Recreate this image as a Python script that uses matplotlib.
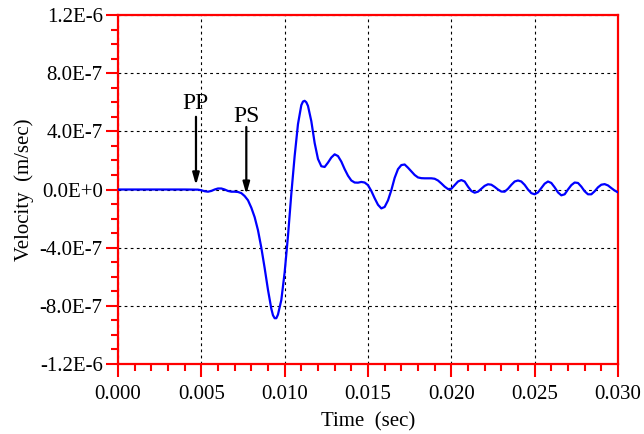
import numpy as np
import matplotlib
matplotlib.use('Agg')
import matplotlib.pyplot as plt
from matplotlib.ticker import MultipleLocator, FuncFormatter

plt.rcParams['font.family'] = ['Liberation Serif', 'DejaVu Serif']

# time (sec) of each velocity sample
t = [0.0, 0.0020, 0.0040, 0.0048, 0.0050, 0.0052, 0.0054, 0.0056, 0.0058,
     0.0060, 0.0062, 0.0064, 0.0066, 0.0068, 0.0070, 0.0072, 0.0074, 0.0076,
     0.0078, 0.0080, 0.0082, 0.0084, 0.0086, 0.0088, 0.0090, 0.0092, 0.0093,
     0.0094, 0.0095, 0.0096, 0.0098, 0.0100, 0.0102, 0.0104, 0.0106, 0.0108,
     0.0110, 0.0111, 0.0112, 0.0113,
     0.0114, 0.0116, 0.0118, 0.0120, 0.0122, 0.0124, 0.0126, 0.0128, 0.0130,
     0.0132, 0.0134, 0.0136, 0.0138, 0.0140, 0.0142, 0.0144, 0.0146, 0.0148,
     0.0150, 0.0152, 0.0154, 0.0156, 0.0158, 0.0160, 0.0162, 0.0164, 0.0166,
     0.0168, 0.0170, 0.0172, 0.0174, 0.0176, 0.0178, 0.0180, 0.0182, 0.0184,
     0.0186, 0.0188, 0.0190, 0.0192, 0.0194, 0.0196, 0.0198, 0.0200, 0.0202,
     0.0204, 0.0206, 0.0208, 0.0210, 0.0212, 0.0214, 0.0216, 0.0218, 0.0220,
     0.0222, 0.0224, 0.0226, 0.0228, 0.0230, 0.0232, 0.0234, 0.0236, 0.0238,
     0.0240, 0.0242, 0.0244, 0.0246, 0.0248, 0.0250, 0.0252, 0.0254, 0.0256,
     0.0258, 0.0260, 0.0262, 0.0264, 0.0266, 0.0268, 0.0270, 0.0272, 0.0274,
     0.0276, 0.0278, 0.0280, 0.0282, 0.0284, 0.0286, 0.0288, 0.0290, 0.0292,
     0.0294, 0.0296, 0.0298, 0.0300]

# velocity (1E-7 m/sec)
v7 = [0.0, 0.0, 0.0, -0.01, -0.05, -0.12, -0.15, -0.10, 0.0,
      0.07, 0.07, 0.0, -0.10, -0.15, -0.15, -0.17, -0.25, -0.45,
      -0.74, -1.25, -1.9, -2.8, -4.0, -5.4, -6.9, -8.2, -8.65,
      -8.85, -8.85, -8.6, -7.6, -5.7, -3.2, -0.3, 2.3, 4.5,
      5.8, 6.05, 6.1, 6.0,
      5.75, 4.7, 3.2, 2.1, 1.6, 1.55, 1.85, 2.2, 2.42,
      2.3, 1.92, 1.4, 0.95, 0.62, 0.48, 0.47, 0.52, 0.48,
      0.3, -0.1, -0.6, -1.05, -1.3, -1.2, -0.75, -0.05, 0.8,
      1.4, 1.68, 1.72, 1.5, 1.25, 1.0, 0.83, 0.78, 0.77,
      0.77, 0.77, 0.74, 0.62, 0.42, 0.2, 0.03, 0.05, 0.3,
      0.55, 0.65, 0.55, 0.2, -0.1, -0.22, -0.15, 0.05, 0.25,
      0.36, 0.33, 0.18, 0.0, -0.14, -0.15, 0.05, 0.32, 0.55,
      0.62, 0.55, 0.32, 0.0, -0.25, -0.33, -0.2, 0.1, 0.4,
      0.55, 0.45, 0.15, -0.2, -0.4, -0.33, 0.0, 0.3, 0.48,
      0.45, 0.2, -0.12, -0.33, -0.33, -0.12, 0.15, 0.33, 0.37,
      0.28, 0.1, -0.07, -0.2]

# phase arrivals: label, time, arrow tail, arrow tip, label height
picks = ['PP', 'PS']
pick_t = [0.00468, 0.00770]
pick_tail = [5.0e-7, 4.3e-7]
pick_tip = [0.3e-7, -0.33e-7]
pick_text = [5.9e-7, 5.0e-7]

v = np.array(v7) * 1e-7

fig = plt.figure(figsize=(6.44, 4.34), dpi=100)
ax = fig.add_axes([0.1832, 0.1613, 0.7764, 0.8041])

ax.plot(t, v, color='#0000ff', lw=1.6, zorder=3)

for name, x, y0, y1, yt in zip(picks, pick_t, pick_tail, pick_tip, pick_text):
    ax.annotate('', xy=(x, y1), xytext=(x, y0),
                arrowprops=dict(arrowstyle='-|>,head_length=0.7,head_width=0.2',
                                color='black', lw=1.6, shrinkA=0, shrinkB=0),
                zorder=4)
    ax.text(x, yt, name, ha='center', va='center', fontsize=17)

ax.set_xlim(0, 0.030)
ax.set_ylim(-1.2e-6, 1.2e-6)
ax.xaxis.set_major_locator(MultipleLocator(0.005))
ax.xaxis.set_minor_locator(MultipleLocator(0.001))
ax.yaxis.set_major_locator(MultipleLocator(4e-7))
ax.yaxis.set_minor_locator(MultipleLocator(1e-7))
ax.xaxis.set_major_formatter(FuncFormatter(lambda x, p: f'{x:.3f}'))


def sci(y, p):
    if abs(y) < 1e-12:
        return '0.0E+0'
    s = f'{y:.1E}'
    mant, ex = s.split('E')
    return f'{mant}E{int(ex)}'


ax.yaxis.set_major_formatter(FuncFormatter(sci))

ax.grid(True, which='major', color='black', ls=(0, (2.5, 3)), lw=0.8)

for sp in ax.spines.values():
    sp.set_color('red')
    sp.set_linewidth(1.6)

ax.tick_params(which='both', direction='out', color='red', width=1.5,
               labelsize=15, top=False, right=False)
ax.tick_params(which='major', length=9, pad=2)
ax.tick_params(axis='x', which='major', pad=6)
ax.tick_params(which='minor', length=5)

ax.set_xlabel('Time  (sec)', fontsize=15, labelpad=6)
ax.set_ylabel('Velocity  (m/sec)', fontsize=15, labelpad=4)

fig.savefig('out.png', dpi=100)
